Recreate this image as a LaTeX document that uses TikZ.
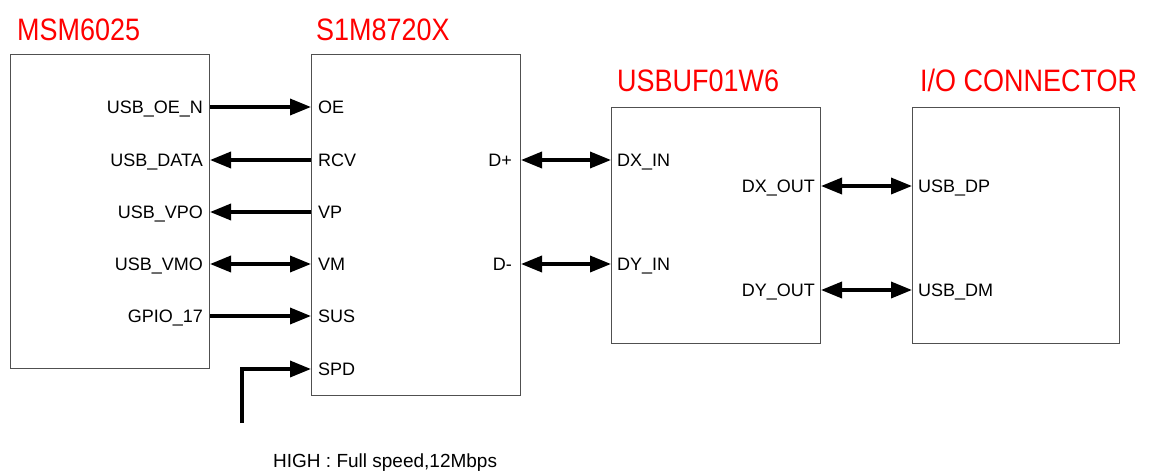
\documentclass[tikz,border=0pt]{standalone}
\usepackage{fontspec}
\setmainfont{Liberation Sans}
\newfontfamily\titlefont[FakeStretch=0.87]{Liberation Sans}
\usetikzlibrary{arrows.meta}
\definecolor{boxgray}{HTML}{505050}
\begin{document}
\begin{tikzpicture}[x=1pt,y=-1pt,
  box/.style={draw=boxgray, line width=1pt, inner sep=0pt, anchor=north west},
  ttl/.style={text=red, font=\titlefont\fontsize{31}{31}\selectfont, inner sep=0pt},
  lbl/.style={font=\fontsize{18}{18}\selectfont, inner sep=0pt},
  sig/.style={line width=3.5pt, -{Triangle[length=21pt,width=16pt]}},
  bsig/.style={line width=3.5pt, {Triangle[length=21pt,width=16pt]}-{Triangle[length=21pt,width=16pt]}}
]
\useasboundingbox (0,0) rectangle (1151,474);

% boxes
\node[box, minimum width=199pt, minimum height=314pt] (msm) at (10,54) {};
\node[box, minimum width=209pt, minimum height=341pt] (s1m) at (311,54) {};
\node[box, minimum width=209pt, minimum height=236pt] (buf) at (611,107) {};
\node[box, minimum width=207pt, minimum height=236pt] (con) at (912,107) {};

% titles
\node[ttl, anchor=base west] (tmsm) at (17,40) {MSM6025};
\node[ttl, anchor=base west] (ts1m) at (316,40) {S1M8720X};
\node[ttl, anchor=base west] (tbuf) at (617,91) {USBUF01W6};
\node[ttl, anchor=base west] (tcon) at (920,91) {I/O CONNECTOR};

% row coordinates
\coordinate (r1) at (0,107);
\coordinate (r2) at (0,160);
\coordinate (r3) at (0,212);
\coordinate (r4) at (0,264);
\coordinate (r5) at (0,316);
\coordinate (r6) at (0,369);
\coordinate (q1) at (0,186);
\coordinate (q2) at (0,290);

% MSM labels
\node[lbl, anchor=base east] (l1) at (203,113.5) {USB\_OE\_N};
\node[lbl, anchor=base east] (l2) at (203,166.5) {USB\_DATA};
\node[lbl, anchor=base east] (l3) at (203,218.5) {USB\_VPO};
\node[lbl, anchor=base east] (l4) at (203,270.5) {USB\_VMO};
\node[lbl, anchor=base east] (l5) at (203,322.5) {GPIO\_17};

% S1M labels
\node[lbl, anchor=base west] (s1) at (318,113.5) {OE};
\node[lbl, anchor=base west] (s2) at (318,166.5) {RCV};
\node[lbl, anchor=base west] (s3) at (318,218.5) {VP};
\node[lbl, anchor=base west] (s4) at (318,270.5) {VM};
\node[lbl, anchor=base west] (s5) at (318,322.5) {SUS};
\node[lbl, anchor=base west] (s6) at (318,375.5) {SPD};
\node[lbl, anchor=base east] (dp) at (512,166.5) {D+};
\node[lbl, anchor=base east] (dm) at (512,270.5) {D-};

% buffer labels
\node[lbl, anchor=base west] (bxi) at (617,166.5) {DX\_IN};
\node[lbl, anchor=base west] (byi) at (617,270.5) {DY\_IN};
\node[lbl, anchor=base east] (bxo) at (815,192.5) {DX\_OUT};
\node[lbl, anchor=base east] (byo) at (815,296.5) {DY\_OUT};

% connector labels
\node[lbl, anchor=base west] (cdp) at (918,192.5) {USB\_DP};
\node[lbl, anchor=base west] (cdm) at (918,296.5) {USB\_DM};

% note
\node[lbl, font=\fontsize{19}{19}\selectfont, anchor=base west] (note) at (273,467) {HIGH : Full speed,12Mbps};

% signals MSM <-> S1M
\draw[sig] (msm.east |- r1) -- (s1m.west |- r1);
\draw[sig] (s1m.west |- r2) -- (msm.east |- r2);
\draw[sig] (s1m.west |- r3) -- (msm.east |- r3);
\draw[bsig] (msm.east |- r4) -- (s1m.west |- r4);
\draw[sig] (msm.east |- r5) -- (s1m.west |- r5);

% SPD
\coordinate (spdfoot) at (242,423);
\draw[line width=3.5pt, -{Triangle[length=21pt,width=16pt]}] (spdfoot) |- (s1m.west |- r6);

% S1M <-> buffer
\draw[bsig] (s1m.east |- r2) -- (buf.west |- r2);
\draw[bsig] (s1m.east |- r4) -- (buf.west |- r4);

% buffer <-> connector
\draw[bsig] (buf.east |- q1) -- (con.west |- q1);
\draw[bsig] (buf.east |- q2) -- (con.west |- q2);
\end{tikzpicture}
\end{document}
